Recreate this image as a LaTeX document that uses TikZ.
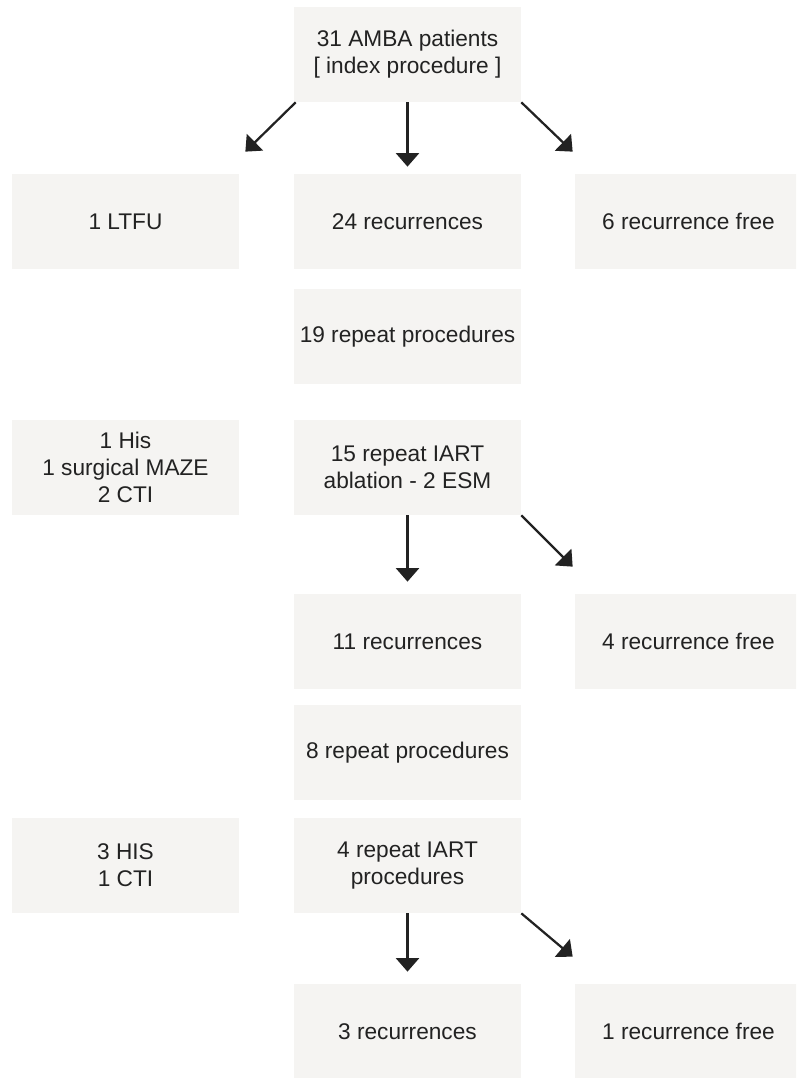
\documentclass[tikz,border=0pt]{standalone}
\usepackage{fontspec}
\setmainfont{Liberation Sans}
\usetikzlibrary{arrows.meta, positioning, calc}

\definecolor{boxfill}{HTML}{F5F4F2}
\definecolor{inkgray}{HTML}{222222}

\begin{document}
\begin{tikzpicture}[
        box/.style={rectangle,
            fill=boxfill,
            text=inkgray,
            minimum width=4.54cm,
            minimum height=1.9cm,
            inner sep=0pt,
            align=center,
            font=\fontsize{12.9}{15.4}\selectfont},
        arr/.style={-{Triangle[width=0.46cm,length=0.27cm]},
            line width=0.045cm,
            draw=inkgray}
    ]

        \useasboundingbox (0,0) rectangle (15.92,-21.56);
        \clip (0,0) rectangle (15.92,-21.56);

        % Index procedure
        \node[box] (index) at (8.15,-1.09) {31 AMBA patients\\{}[ index procedure ]};

        % First outcome row
        \node[box] (ltfu)   at (2.51,-4.43)  {1 LTFU};
        \node[box] (rec_1)  at (8.15,-4.43)  {24 recurrences};
        \node[box] (free_1) at (13.77,-4.43) {6 recurrence free};

        \node[box] (rep_1)  at (8.15,-6.73)  {19 repeat procedures};

        % Second round
        \node[box] (other_1) at (2.51,-9.35) {1 His\\1 surgical MAZE\\2 CTI};
        \node[box] (iart_1)  at (8.15,-9.35) {15 repeat IART\\ablation - 2 ESM};

        \node[box] (rec_2)  at (8.15,-12.83)  {11 recurrences};
        \node[box] (free_2) at (13.77,-12.83) {4 recurrence free};

        \node[box] (rep_2)  at (8.15,-15.05) {8 repeat procedures};

        % Third round
        \node[box] (other_2) at (2.51,-17.31) {3 HIS\\1 CTI};
        \node[box] (iart_2)  at (8.15,-17.31) {4 repeat IART\\procedures};

        \node[box] (rec_3)  at (8.15,-20.63)  {3 recurrences};
        \node[box] (free_3) at (13.77,-20.63) {1 recurrence free};

        % Free ends of the slanted arrows
        \coordinate (tip_l)  at ($(ltfu.north east)+(0.12,0.44)$);
        \coordinate (tip_r1) at ($(free_1.north west)+(-0.04,0.44)$);
        \coordinate (tip_r2) at ($(free_2.north west)+(-0.04,0.54)$);
        \coordinate (tip_r3) at ($(free_3.north west)+(-0.04,0.54)$);

        % Connect the boxes
        \draw[arr] ($(index.south west)+(0.04,0)$) -- (tip_l);
        \draw[arr] (index.south) -- ([yshift=0.14cm]rec_1.north);
        \draw[arr] (index.south east) -- (tip_r1);

        \draw[arr] (iart_1.south) -- ([yshift=0.24cm]rec_2.north);
        \draw[arr] (iart_1.south east) -- (tip_r2);

        \draw[arr] (iart_2.south) -- ([yshift=0.24cm]rec_3.north);
        \draw[arr] (iart_2.south east) -- (tip_r3);
\end{tikzpicture}
\end{document}
